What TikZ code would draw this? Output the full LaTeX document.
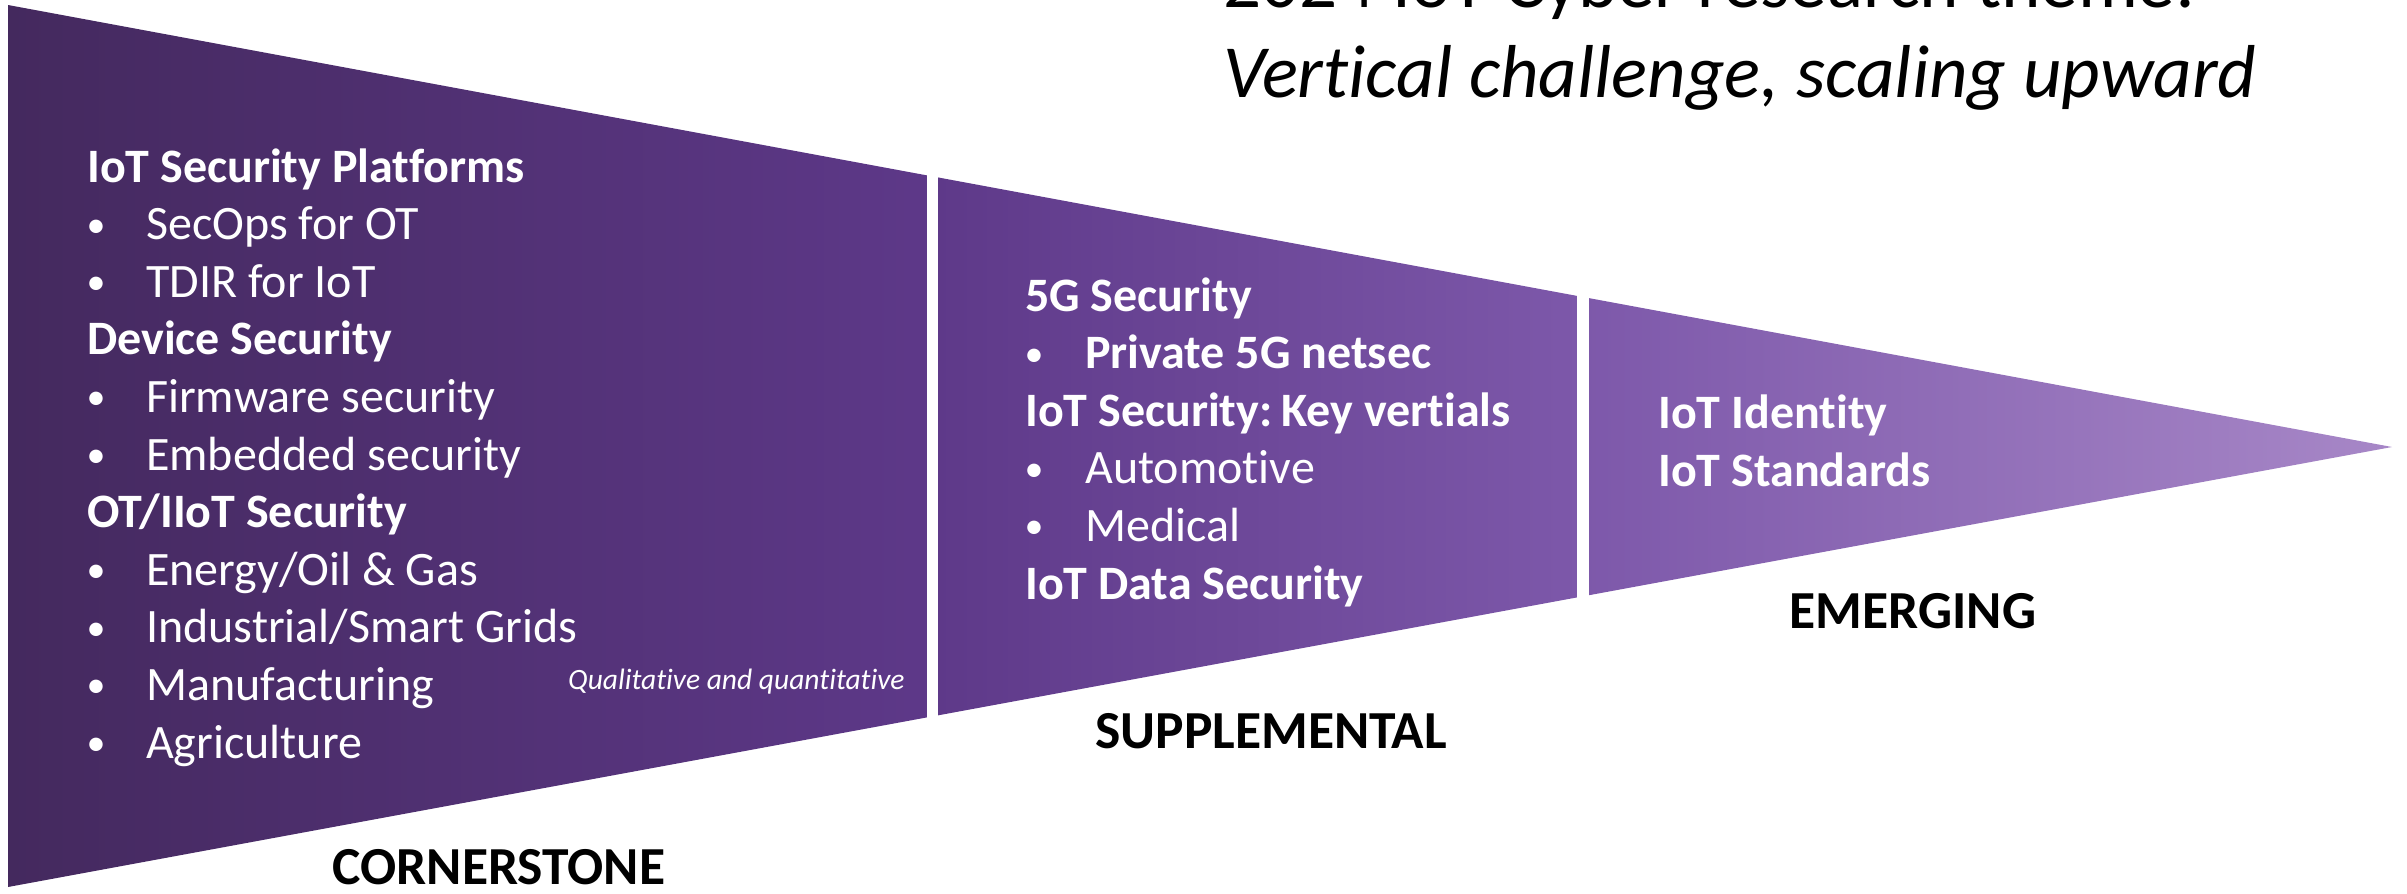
\documentclass[tikz,border=0pt]{standalone}
\usepackage{fontspec}
\setmainfont{Carlito}[Ligatures=NoCommon]
\definecolor{c0}{HTML}{44295E}
\definecolor{c1}{HTML}{5D3888}
\definecolor{c2}{HTML}{7D58AA}
\definecolor{c3}{HTML}{A787C7}
\pgfdeclarehorizontalshading{purp}{100bp}{color(0bp)=(c0); color(25bp)=(c0); color(44bp)=(c1); color(58bp)=(c2); color(75bp)=(c3); color(100bp)=(c3)}
\tikzset{
  tx/.style={text=white, anchor=base west, inner sep=0pt, font=\fontsize{48}{57}\selectfont},
  hd/.style={text=white, anchor=base west, inner sep=0pt, font=\fontsize{48}{57}\selectfont\bfseries},
  bul/.style={text=white, anchor=base, inner sep=0pt, font=\fontsize{38}{57}\selectfont},
  lbl/.style={text=black, anchor=center, inner sep=0pt, font=\fontsize{53.5}{64}\selectfont\bfseries},
  ttl/.style={text=black, anchor=base west, inner sep=0pt, font=\fontsize{75}{90}\selectfont}
}
\begin{document}
\begin{tikzpicture}[x=1pt,y=-1pt]
\useasboundingbox (0,0) rectangle (2407,894);
\clip (0,0) rectangle (2407,894);
\shade[shading=purp] (8,5) -- (2392,447) -- (8,887) -- cycle;
\fill[white] (927,0) rectangle (938,894);
\fill[white] (1577,0) rectangle (1589,894);
% piece 1
\node[hd] (a1) at (87,182) {IoT Security Platforms};
\node[bul] (a2b) at (96,237) {•};
\node[tx] (a2) at (146,239.6) {SecOps for OT};
\node[bul] (a3b) at (96,294.6) {•};
\node[tx] (a3) at (146,297.2) {TDIR for IoT};
\node[hd] (a4) at (87,354.8) {Device Security};
\node[bul] (a5b) at (96,409.8) {•};
\node[tx] (a5) at (146,412.4) {Firmware security};
\node[bul] (a6b) at (96,467.4) {•};
\node[tx] (a6) at (146,470) {Embedded security};
\node[hd] (a7) at (87,527.6) {OT/IIoT Security};
\node[bul] (a8b) at (96,582.6) {•};
\node[tx] (a8) at (146,585.2) {Energy/Oil \& Gas};
\node[bul] (a9b) at (96,640.2) {•};
\node[tx] (a9) at (146,642.8) {Industrial/Smart Grids};
\node[bul] (a10b) at (96,697.8) {•};
\node[tx] (a10) at (146,700.4) {Manufacturing};
\node[bul] (a11b) at (96,755.4) {•};
\node[tx] (a11) at (146,758) {Agriculture};
\node[text=white, anchor=base west, inner sep=0pt, font=\fontsize{29.5}{35}\selectfont\itshape] (q) at (568,689) {Qualitative and quantitative};
% piece 2
\node[hd] (b1) at (1025,311) {5G Security};
\node[bul] (b2b) at (1034,366) {•};
\node[hd] (b2) at (1085,368.6) {Private 5G netsec};
\node[hd] (b3) at (1025,426.2) {IoT Security:\kern-2pt\ Key vertials};
\node[bul] (b4b) at (1034,481.2) {•};
\node[tx] (b4) at (1085,483.8) {Automotive};
\node[bul] (b5b) at (1034,538.8) {•};
\node[tx] (b5) at (1085,541.4) {Medical};
\node[hd] (b6) at (1025,599) {IoT Data Security};
% piece 3
\node[hd] (c1) at (1658,428) {IoT Identity};
\node[hd] (c2) at (1658,486) {IoT Standards};
% labels
\node[lbl] (l1) at (499,867) {CORNERSTONE};
\node[lbl] (l2) at (1271,731) {SUPPLEMENTAL};
\node[lbl] (l3) at (1913,611) {EMERGING};
% title
\node[ttl] (t1) at (1223,8) {2024 IoT Cyber research theme:};
\node[ttl, font=\fontsize{75}{90}\selectfont\itshape] (t2) at (1223,97) {Vertical challenge, scaling upward};
\end{tikzpicture}
\end{document}
